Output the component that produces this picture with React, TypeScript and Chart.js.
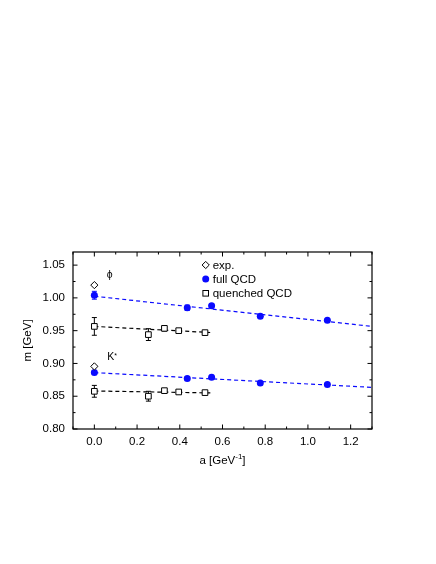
import React, { useEffect, useRef } from "react";
import { Chart, registerables } from "chart.js";

Chart.register(...registerables);

// ---- data ----
const aFull = [0, 0.435, 0.549, 0.777, 1.091];
const mFullPhi = [1.004, 0.985, 0.988, 0.972, 0.966];
const eFullPhi = [0.006, 0.004, 0.003, 0.002, 0.002];
const mFullK = [0.886, 0.877, 0.879, 0.870, 0.868];
const eFullK = [0.003, 0.003, 0.003, 0.002, 0.002];

const aQuen = [0, 0.253, 0.328, 0.395, 0.518];
const mQuenPhi = [0.9565, 0.944, 0.9535, 0.95, 0.947];
const eQuenPhi = [0.0135, 0.009, 0.004, 0.002, 0.002];
const mQuenK = [0.8575, 0.85, 0.8585, 0.8565, 0.8555];
const eQuenK = [0.009, 0.0075, 0.002, 0.002, 0.002];

const aExp = [0, 0];
const mExp = [1.0195, 0.8955];

const aFitFull = [0, 1.3];
const mFitFullPhi = [1.0025, 0.9565];
const mFitFullK = [0.886, 0.8635];
const aFitQuen = [0, 0.552];
const mFitQuenPhi = [0.9565, 0.947];
const mFitQuenK = [0.858, 0.855];

const xTicks = [0, 0.2, 0.4, 0.6, 0.8, 1.0, 1.2];
const yTicks = [0.8, 0.85, 0.9, 0.95, 1.0, 1.05];
const xMinor = [-0.1, 0.1, 0.3, 0.5, 0.7, 0.9, 1.1, 1.3];
const yMinor = [0.825, 0.875, 0.925, 0.975, 1.025];

const legendLabels = ["exp.", "full QCD", "quenched QCD"];

const BLUE = "#0a0aff";
const FONT = "'Liberation Sans', Arial, sans-serif";

const pts = (xs: number[], ys: number[]) => xs.map((x, i) => ({ x, y: ys[i] }));

const drawMarker = (ctx: CanvasRenderingContext2D, kind: string, x: number, y: number) => {
  ctx.save();
  ctx.lineWidth = 1;
  if (kind === "diamond") {
    ctx.beginPath();
    ctx.moveTo(x, y - 3.6);
    ctx.lineTo(x + 3.6, y);
    ctx.lineTo(x, y + 3.6);
    ctx.lineTo(x - 3.6, y);
    ctx.closePath();
    ctx.fillStyle = "#fff";
    ctx.fill();
    ctx.strokeStyle = "#000";
    ctx.stroke();
  } else if (kind === "circle") {
    ctx.beginPath();
    ctx.arc(x, y, 3.5, 0, Math.PI * 2);
    ctx.fillStyle = BLUE;
    ctx.fill();
  } else {
    ctx.fillStyle = "#fff";
    ctx.fillRect(x - 2.8, y - 2.8, 5.6, 5.6);
    ctx.strokeStyle = "#000";
    ctx.strokeRect(x - 2.8, y - 2.8, 5.6, 5.6);
  }
  ctx.restore();
};

const decorPlugin = {
  id: "decor",
  beforeDatasetsDraw(chart: any) {
    const ctx = chart.ctx as CanvasRenderingContext2D;
    const xs = chart.scales.x;
    const ys = chart.scales.y;
    ctx.save();
    chart.data.datasets.forEach((ds: any) => {
      if (!ds.errors) return;
      ctx.strokeStyle = ds.errColor;
      ctx.lineWidth = 1;
      ds.data.forEach((p: any, i: number) => {
        const e = ds.errors[i];
        const px = xs.getPixelForValue(p.x);
        const y1 = ys.getPixelForValue(p.y - e);
        const y2 = ys.getPixelForValue(p.y + e);
        ctx.beginPath();
        ctx.moveTo(px, y1);
        ctx.lineTo(px, y2);
        ctx.moveTo(px - 2.5, y1);
        ctx.lineTo(px + 2.5, y1);
        ctx.moveTo(px - 2.5, y2);
        ctx.lineTo(px + 2.5, y2);
        ctx.stroke();
      });
    });
    ctx.restore();
  },
  afterDraw(chart: any) {
    const ctx = chart.ctx as CanvasRenderingContext2D;
    const { left, right, top, bottom } = chart.chartArea;
    const xs = chart.scales.x;
    const ys = chart.scales.y;
    ctx.save();
    ctx.strokeStyle = "#000";
    ctx.lineWidth = 1.2;
    ctx.strokeRect(left, top, right - left, bottom - top);
    ctx.lineWidth = 1;
    ctx.beginPath();
    const tickX = (v: number, len: number) => {
      const px = xs.getPixelForValue(v);
      ctx.moveTo(px, bottom);
      ctx.lineTo(px, bottom - len);
      ctx.moveTo(px, top);
      ctx.lineTo(px, top + len);
    };
    const tickY = (v: number, len: number) => {
      const py = ys.getPixelForValue(v);
      ctx.moveTo(left, py);
      ctx.lineTo(left + len, py);
      ctx.moveTo(right, py);
      ctx.lineTo(right - len, py);
    };
    xTicks.forEach((v) => tickX(v, 4.5));
    xMinor.forEach((v) => tickX(v, 2.5));
    yTicks.forEach((v) => tickY(v, 4.5));
    yMinor.forEach((v) => tickY(v, 2.5));
    ctx.stroke();

    // axis titles
    ctx.fillStyle = "#000";
    ctx.font = `11.5px ${FONT}`;
    ctx.textBaseline = "alphabetic";
    const cx = (left + right) / 2;
    const t1 = "a [GeV";
    const sup = "-1";
    const t2 = "]";
    const w1 = ctx.measureText(t1).width;
    const w3 = ctx.measureText(t2).width;
    ctx.font = `8px ${FONT}`;
    const w2 = ctx.measureText(sup).width;
    const total = w1 + w2 + w3;
    let sx = cx - total / 2;
    const by = 464;
    ctx.font = `11.5px ${FONT}`;
    ctx.textAlign = "left";
    ctx.fillText(t1, sx, by);
    ctx.font = `8px ${FONT}`;
    ctx.fillText(sup, sx + w1, by - 5);
    ctx.font = `11.5px ${FONT}`;
    ctx.fillText(t2, sx + w1 + w2, by);

    ctx.save();
    ctx.translate(31, (top + bottom) / 2);
    ctx.rotate(-Math.PI / 2);
    ctx.textAlign = "center";
    ctx.fillText("m [GeV]", 0, 0);
    ctx.restore();

    // particle labels
    ctx.font = `10.5px ${FONT}`;
    ctx.textAlign = "left";
    ctx.textBaseline = "middle";
    ctx.fillText("ϕ", xs.getPixelForValue(0.058), ys.getPixelForValue(1.035));
    ctx.fillText("K", xs.getPixelForValue(0.06), ys.getPixelForValue(0.909));
    const kw = ctx.measureText("K").width;
    ctx.font = `7px ${FONT}`;
    ctx.fillText("*", xs.getPixelForValue(0.06) + kw, ys.getPixelForValue(0.912));

    // legend
    const lx = 205.7;
    const lys = [265, 279, 293.3];
    const kinds = ["diamond", "circle", "square"];
    ctx.font = `11.5px ${FONT}`;
    ctx.textBaseline = "middle";
    legendLabels.forEach((lab, i) => {
      drawMarker(ctx, kinds[i], lx, lys[i]);
      ctx.fillStyle = "#000";
      ctx.fillText(lab, lx + 7, lys[i] + 0.5);
    });
    ctx.restore();
  },
};

export default function App() {
  const ref = useRef<HTMLCanvasElement | null>(null);
  useEffect(() => {
    if (!ref.current) return;
    const pointBase = { showLine: false, borderWidth: 1 };
    const chart = new Chart(ref.current, {
      type: "scatter",
      data: {
        datasets: [
          {
            ...pointBase,
            label: "exp.",
            data: pts(aExp, mExp),
            pointStyle: "rectRot",
            pointRadius: 3.6,
            backgroundColor: "#fff",
            borderColor: "#000",
          },
          {
            ...pointBase,
            label: "full QCD phi",
            data: pts(aFull, mFullPhi),
            errors: eFullPhi,
            errColor: BLUE,
            pointStyle: "circle",
            pointRadius: 3.5,
            backgroundColor: BLUE,
            borderColor: BLUE,
            borderWidth: 0,
          },
          {
            ...pointBase,
            label: "full QCD K",
            data: pts(aFull, mFullK),
            errors: eFullK,
            errColor: BLUE,
            pointStyle: "circle",
            pointRadius: 3.5,
            backgroundColor: BLUE,
            borderColor: BLUE,
            borderWidth: 0,
          },
          {
            ...pointBase,
            label: "quenched phi",
            data: pts(aQuen, mQuenPhi),
            errors: eQuenPhi,
            errColor: "#000",
            pointStyle: "rect",
            pointRadius: 4,
            backgroundColor: "#fff",
            borderColor: "#000",
          },
          {
            ...pointBase,
            label: "quenched K",
            data: pts(aQuen, mQuenK),
            errors: eQuenK,
            errColor: "#000",
            pointStyle: "rect",
            pointRadius: 4,
            backgroundColor: "#fff",
            borderColor: "#000",
          },
          {
            label: "fit full phi",
            data: pts(aFitFull, mFitFullPhi),
            showLine: true,
            pointRadius: 0,
            borderColor: BLUE,
            borderWidth: 1.2,
            borderDash: [4, 3],
          },
          {
            label: "fit full K",
            data: pts(aFitFull, mFitFullK),
            showLine: true,
            pointRadius: 0,
            borderColor: BLUE,
            borderWidth: 1.2,
            borderDash: [4, 3],
          },
          {
            label: "fit quen phi",
            data: pts(aFitQuen, mFitQuenPhi),
            showLine: true,
            pointRadius: 0,
            borderColor: "#000",
            borderWidth: 1.2,
            borderDash: [4, 3],
          },
          {
            label: "fit quen K",
            data: pts(aFitQuen, mFitQuenK),
            showLine: true,
            pointRadius: 0,
            borderColor: "#000",
            borderWidth: 1.2,
            borderDash: [4, 3],
          },
        ] as any,
      },
      options: {
        responsive: false,
        animation: false,
        layout: { padding: { top: 252, right: 64, left: 0, bottom: 0 } },
        plugins: { legend: { display: false }, tooltip: { enabled: false } },
        scales: {
          x: {
            type: "linear",
            min: -0.1,
            max: 1.3,
            grid: { display: false, drawTicks: false },
            border: { display: false },
            afterBuildTicks: (s: any) => {
              s.ticks = xTicks.map((v) => ({ value: v }));
            },
            afterFit: (s: any) => {
              s.height = 135;
            },
            ticks: {
              padding: 6,
              color: "#000",
              font: { family: FONT, size: 11.5 },
              maxRotation: 0,
              callback: (v: any) => Number(v).toFixed(1),
            },
          },
          y: {
            type: "linear",
            min: 0.8,
            max: 1.07,
            grid: { display: false, drawTicks: false },
            border: { display: false },
            afterBuildTicks: (s: any) => {
              s.ticks = yTicks.map((v) => ({ value: v }));
            },
            afterFit: (s: any) => {
              s.width = 73;
            },
            ticks: {
              padding: 8,
              color: "#000",
              font: { family: FONT, size: 11.5 },
              callback: (v: any) => Number(v).toFixed(2),
            },
          },
        },
      },
      plugins: [decorPlugin],
    });
    return () => chart.destroy();
  }, []);
  return (
    <div style={{ position: "absolute", left: 0, top: 0, width: 436, height: 564, background: "#fff" }}>
      <canvas ref={ref} width={436} height={564} />
    </div>
  );
}
